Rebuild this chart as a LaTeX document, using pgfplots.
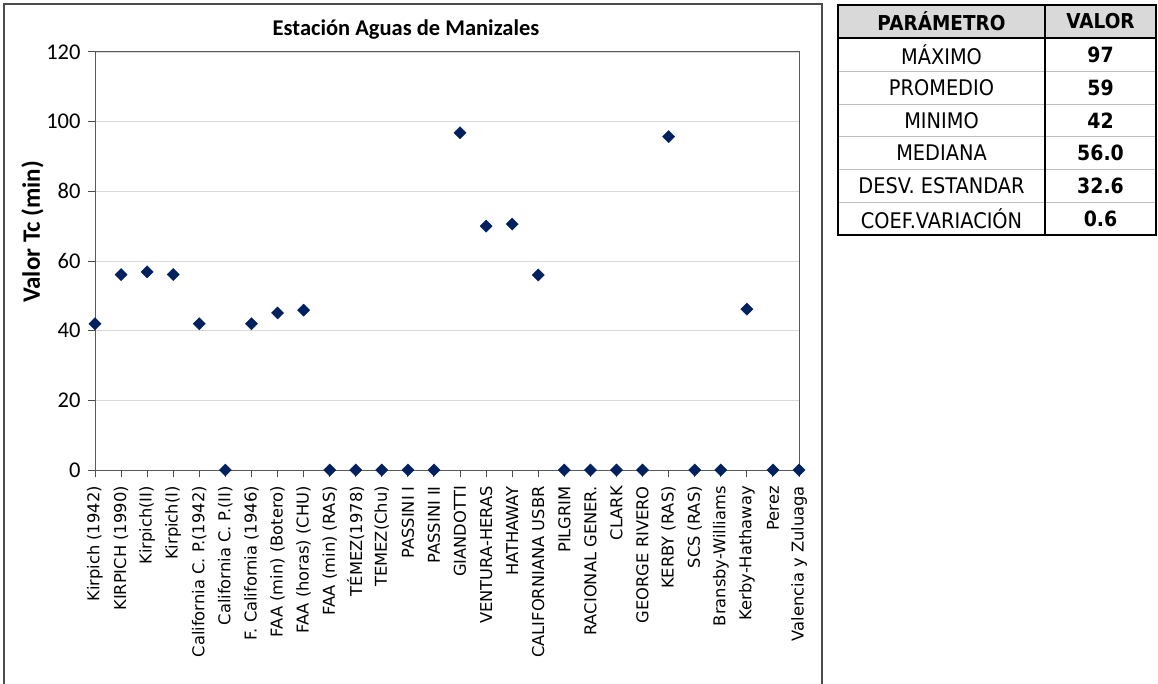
\documentclass[border=0pt]{standalone}
\usepackage{fontspec}
\setmainfont{Carlito}
\newfontfamily\xlab{DejaVu Sans}
\newfontfamily\tabf{DejaVu Sans}[FakeStretch=0.9]
\usepackage{pgfplots}
\pgfplotsset{compat=1.18}
\definecolor{mk}{RGB}{0,32,96}
\definecolor{gridc}{RGB}{217,217,217}
\definecolor{axc}{RGB}{89,89,89}
\definecolor{hdr}{RGB}{217,217,217}
\begin{document}
\begin{tikzpicture}[x=1pt,y=1pt]
\useasboundingbox (0,0) rectangle (1158,-684);
\fill[white] (0,0) rectangle (1158,-684);
\draw[line width=1.3pt, black!70] (4,-4) rectangle (822,-700);
\begin{axis}[
  at={(95pt,-470pt)}, anchor=south west,
  scale only axis, width=704pt, height=418pt,
  xmin=0, xmax=27, ymin=0, ymax=120,
  ytick={0,20,...,120},
  xtick={0,...,27},
  xticklabels={{Kirpich (1942)},{KIRPICH (1990)},{Kirpich(II)},{Kirpich(I)},{California C. P.(1942)},{California C. P.(II)},{F. California (1946)},{FAA (min) (Botero)},{FAA (horas) (CHU)},{FAA (min) (RAS)},{TÉMEZ(1978)},{TEMEZ(Chu)},{PASSINI I},{PASSINI II},{GIANDOTTI},{VENTURA-HERAS},{HATHAWAY},{CALIFORNIANA USBR},{PILGRIM},{RACIONAL GENER.},{CLARK},{GEORGE RIVERO},{KERBY (RAS)},{SCS (RAS)},{Bransby-Williams},{Kerby-Hathaway},{Perez},{Valencia y Zuluaga}},
  ymajorgrids, grid style={gridc, line width=0.9pt},
  axis line style={black!65, line width=1pt},
  tick style={black!70, line width=1pt},
  tick align=outside, major tick length=7pt, tick pos=left,
  x tick label style={rotate=90, anchor=east, font=\xlab\fontsize{16.3}{19}\selectfont, inner xsep=9pt},
  y tick label style={font=\fontsize{22.5}{26}\selectfont, xshift=-4pt},
  /pgf/number format/assume math mode=true,
  clip=false,
]
\addplot[only marks, mark=square*, mark size=4.3pt, mark options={rotate=45, fill=mk, draw=mk}] coordinates {
(0,42) (1,56.1) (2,56.9) (3,56.1) (4,42) (5,0) (6,42) (7,45.1) (8,45.9) (9,0)
(10,0) (11,0) (12,0) (13,0) (14,96.8) (15,70) (16,70.6) (17,56) (18,0) (19,0)
(20,0) (21,0) (22,95.7) (23,0) (24,0) (25,46.2) (26,0) (27,0)};
\end{axis}
\node[font=\bfseries\fontsize{22.5}{27}\selectfont] at (406,-30) {Estación Aguas de Manizales};
\node[rotate=90, font=\bfseries\fontsize{25}{29}\selectfont] at (32.5,-232) {Valor Tc (min)};
% table
\fill[hdr] (838,-5) rectangle (1156,-37.7);
\foreach \yy in {71,104.3,136.7,169.3,202.3} \draw[black!25, line width=0.9pt] (838,-\yy) -- (1156,-\yy);
\draw[black, line width=1.8pt] (838,-37.7) -- (1156,-37.7);
\draw[black, line width=1.8pt] (1045,-5) -- (1045,-235);
\draw[black, line width=1.8pt] (838,-5) rectangle (1156,-235);
\begin{scope}[every node/.style={font=\tabf\fontsize{21.5}{25}\selectfont, inner sep=0pt}]
\node[font=\tabf\bfseries\fontsize{20.5}{25}\selectfont] at (941.5,-21.4) {PARÁMETRO};
\node[font=\tabf\bfseries\fontsize{20.5}{25}\selectfont] at (1100.5,-21.4) {VALOR};
\node at (941.5,-54.4) {MÁXIMO};
\node at (941.5,-87.6) {PROMEDIO};
\node at (941.5,-120.5) {MINIMO};
\node at (941.5,-153) {MEDIANA};
\node at (941.5,-185.8) {DESV. ESTANDAR};
\node at (941.5,-218.6) {COEF.VARIACIÓN};
\node[font=\tabf\bfseries\fontsize{21}{25}\selectfont] at (1100.5,-54.4) {97};
\node[font=\tabf\bfseries\fontsize{21}{25}\selectfont] at (1100.5,-87.6) {59};
\node[font=\tabf\bfseries\fontsize{21}{25}\selectfont] at (1100.5,-120.5) {42};
\node[font=\tabf\bfseries\fontsize{21}{25}\selectfont] at (1100.5,-153) {56.0};
\node[font=\tabf\bfseries\fontsize{21}{25}\selectfont] at (1100.5,-185.8) {32.6};
\node[font=\tabf\bfseries\fontsize{21}{25}\selectfont] at (1100.5,-218.6) {0.6};
\end{scope}
\end{tikzpicture}
\end{document}
